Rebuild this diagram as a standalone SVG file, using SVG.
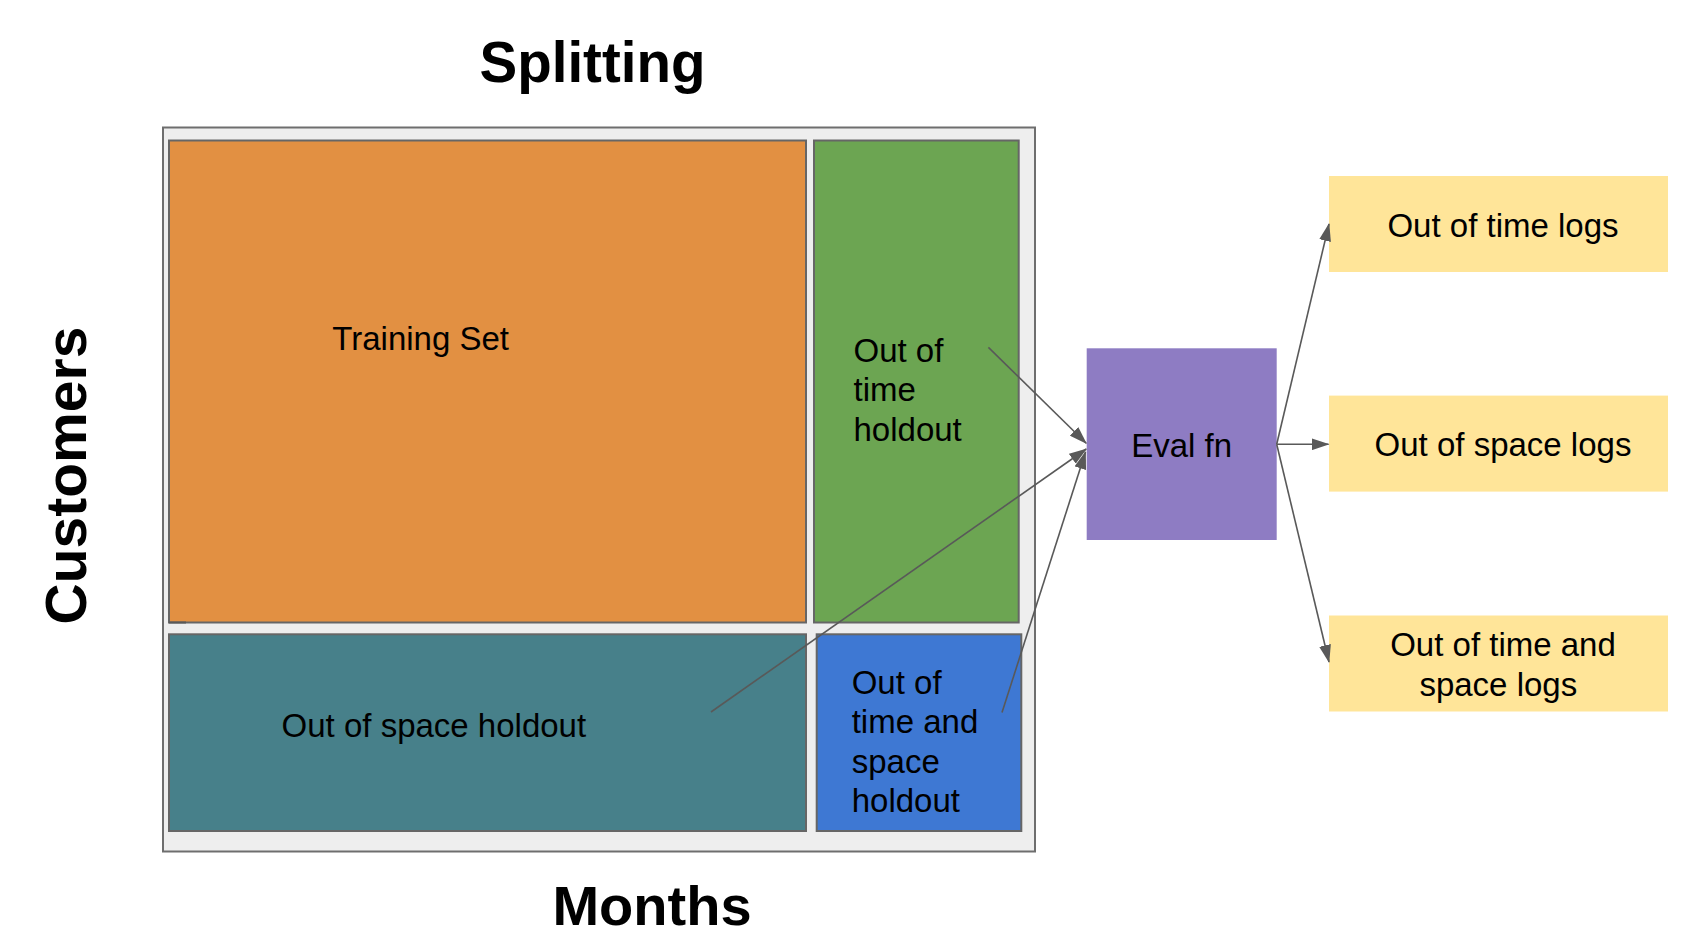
<svg xmlns="http://www.w3.org/2000/svg" width="1692" height="944" viewBox="0 0 1692 944">
<style>
.lbl{font-family:"Liberation Sans",Arial,sans-serif;font-size:33px;fill:#000}
.ttl{font-family:"Liberation Sans",Arial,sans-serif;font-weight:bold;fill:#000}
.cell{stroke:#666666;stroke-width:2}
.conn{stroke:#595959;stroke-width:1.6;fill:none}
</style>
<defs>
<marker id="arr" markerUnits="userSpaceOnUse" viewBox="0 0 18 12" markerWidth="18" markerHeight="12" refX="17" refY="6" orient="auto">
<path d="M0,0 L18,6 L0,12 z" fill="#595959"/>
</marker>
</defs>
<rect width="1692" height="944" fill="#ffffff"/>
<g id="title-splitting"><text class="ttl" x="592.5" y="82" font-size="56.5" text-anchor="middle">Splitting</text></g>
<g id="title-months"><text class="ttl" x="652" y="925" font-size="56" text-anchor="middle">Months</text></g>
<g id="title-customers"><text class="ttl" font-size="57" text-anchor="middle" transform="translate(85.5,475.5) rotate(-90)">Customers</text></g>
<g id="frame"><rect x="163" y="127.5" width="872" height="724" fill="#eeeeee" stroke="#6e6e6e" stroke-width="2"/></g>
<g id="training-set">
<rect class="cell" x="169" y="140.5" width="637" height="482" fill="#e29042"/>
<line x1="169" y1="622.5" x2="186" y2="622.5" stroke="#595959" stroke-width="2"/>
<text class="lbl" x="332.3" y="350">Training Set</text>
</g>
<g id="out-of-time-holdout">
<rect class="cell" x="814" y="140.5" width="204.7" height="482" fill="#6ca552"/>
<text class="lbl" x="853.5" y="361.5">Out of</text>
<text class="lbl" x="853.5" y="401">time</text>
<text class="lbl" x="853.5" y="440.7">holdout</text>
</g>
<g id="out-of-space-holdout">
<rect class="cell" x="169" y="634.3" width="637" height="196.7" fill="#47808a"/>
<text class="lbl" x="281.6" y="737">Out of space holdout</text>
</g>
<g id="out-of-time-and-space-holdout">
<rect class="cell" x="816.7" y="634.3" width="204.6" height="196.7" fill="#3e78d3"/>
<text class="lbl" x="851.7" y="694.3">Out of</text>
<text class="lbl" x="851.7" y="733.4">time and</text>
<text class="lbl" x="851.7" y="772.5">space</text>
<text class="lbl" x="851.7" y="811.6">holdout</text>
</g>
<g id="eval-fn">
<rect x="1086.7" y="348.3" width="190" height="191.7" fill="#8e7cc3"/>
<text class="lbl" x="1181.7" y="456.7" text-anchor="middle">Eval fn</text>
</g>
<g id="out-of-time-logs">
<rect x="1329" y="176" width="339" height="96" fill="#ffe599"/>
<text class="lbl" x="1503" y="236.5" text-anchor="middle">Out of time logs</text>
</g>
<g id="out-of-space-logs">
<rect x="1329" y="395.6" width="339" height="96" fill="#ffe599"/>
<text class="lbl" x="1503" y="456" text-anchor="middle">Out of space logs</text>
</g>
<g id="out-of-time-and-space-logs">
<rect x="1329" y="615.5" width="339" height="96" fill="#ffe599"/>
<text class="lbl" x="1503" y="656" text-anchor="middle">Out of time and</text>
<text class="lbl" x="1498.3" y="696" text-anchor="middle">space logs</text>
</g>
<g id="connectors">
<line class="conn" x1="988.4" y1="347.4" x2="1086.2" y2="443.3" marker-end="url(#arr)"/>
<line class="conn" x1="711" y1="712" x2="1086.2" y2="449" marker-end="url(#arr)"/>
<line class="conn" x1="1002" y1="712.5" x2="1085.5" y2="452" marker-end="url(#arr)"/>
<line class="conn" x1="1276.7" y1="444.3" x2="1328.5" y2="444.3" marker-end="url(#arr)"/>
<line class="conn" x1="1276.7" y1="444.3" x2="1329" y2="224" marker-end="url(#arr)"/>
<line class="conn" x1="1276.7" y1="444.3" x2="1329" y2="662" marker-end="url(#arr)"/>
</g>
</svg>
